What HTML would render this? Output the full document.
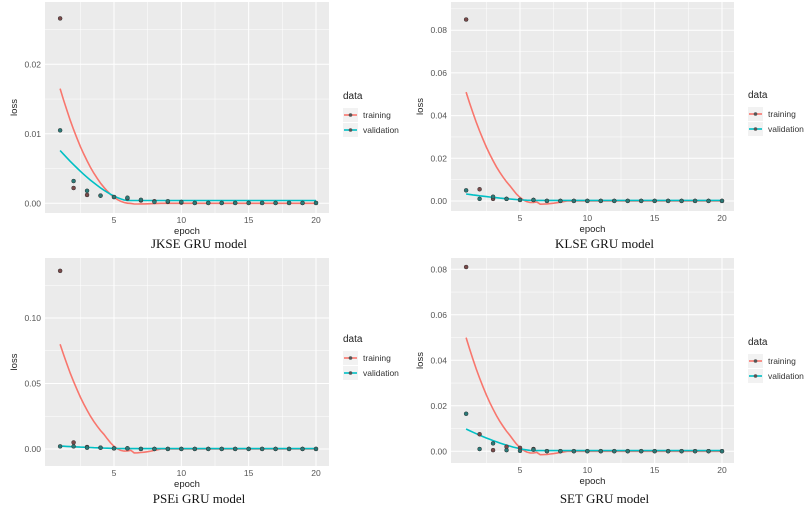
<!DOCTYPE html>
<html><head><meta charset="utf-8"><style>
body{margin:0;background:#fff;width:812px;height:513px;overflow:hidden}
svg{display:block}
</style></head><body>
<svg id="s" width="812" height="513" xmlns="http://www.w3.org/2000/svg" font-family="Liberation Sans, sans-serif"></svg>
<script>
const S=document.getElementById('s');let h='';
function P(o){
 const {x0,x1,y0,y1,zy,unit,step,nt,fmt,title,ty,tp,vp,tc,vc,ly}=o;
 const X=e=>o.ex5+(e-5)*(o.ex20-o.ex5)/15, Y=v=>zy-v/step*unit;
 h+=`<rect x="${x0}" y="${y0}" width="${x1-x0}" height="${y1-y0}" fill="#ebebeb"/>`;
 for(let i=-0.5;i<nt+0.5;i+=0.5){const y=Y(i*step);if(y<y0||y>y1)continue;h+=`<line x1="${x0}" x2="${x1}" y1="${y}" y2="${y}" stroke="#fff" stroke-width="${i%1?0.5:1}"/>`;}
 for(let e=2.5;e<=20;e+=2.5){h+=`<line y1="${y0}" y2="${y1}" x1="${X(e)}" x2="${X(e)}" stroke="#fff" stroke-width="${e%5?0.5:1}"/>`;}
 for(let i=0;i<nt;i++){const y=Y(i*step);h+=`<text x="${x0-4}" y="${y+3}" font-size="8.5" fill="#555" text-anchor="end">${fmt(i*step)}</text>`;}
 for(let e=5;e<=20;e+=5)h+=`<text x="${X(e)}" y="${y1+10}" font-size="8.5" fill="#555" text-anchor="middle">${e}</text>`;
 h+=`<text x="${(x0+x1)/2}" y="${y1+21}" font-size="9.5" fill="#222" text-anchor="middle">epoch</text>`;
 h+=`<text transform="translate(${x0-28},${(y0+y1)/2}) rotate(-90)" font-size="9.5" fill="#222" text-anchor="middle">loss</text>`;
 h+=`<text x="${(x0+x1)/2+12}" y="${ty}" font-size="13" font-family="Liberation Serif, serif" fill="#111" text-anchor="middle">${title}</text>`;
 const pl=(f,c)=>{let d='';for(let e=1;e<=20;e+=0.25)d+=(d?'L':'M')+X(e).toFixed(1)+','+Y(f(e)).toFixed(1);h+=`<path d="${d}" fill="none" stroke="${c}" stroke-width="1.6"/>`;};
 pl(tc,'#f8766d');pl(vc,'#00bfc4');
 tp.forEach((v,i)=>h+=`<circle cx="${X(i+1)}" cy="${Y(v)}" r="2" fill="#7a4a4a" stroke="#333" stroke-width="0.5"/>`);
 vp.forEach((v,i)=>h+=`<circle cx="${X(i+1)}" cy="${Y(v)}" r="2" fill="#2a7a78" stroke="#333" stroke-width="0.5"/>`);
 const lx=x1+14;
 h+=`<text x="${lx}" y="${ly}" font-size="10" fill="#222">data</text>`;
 [['training','#f8766d'],['validation','#00bfc4']].forEach((k,i)=>{const y=ly+16+i*15;
  h+=`<rect x="${lx}" y="${y-7}" width="15" height="14" fill="#f2f2f2"/><line x1="${lx+1}" x2="${lx+14}" y1="${y}" y2="${y}" stroke="${k[1]}" stroke-width="1.6"/><circle cx="${lx+7.5}" cy="${y}" r="1.8" fill="#555"/><text x="${lx+20}" y="${y+3}" font-size="8.5" fill="#333">${k[0]}</text>`;});
}
const curveT=(a,m)=>e=>e<6.5?a*Math.pow((6.5-e)/5.5,2.2)-m*Math.sin(Math.PI*Math.max(0,e-4.3)/2.2)*(e>4.3?1:0):(e<8.5?-m*Math.max(0,Math.sin(Math.PI*(e-4.3)/4.2)):0);
const curveV=(a,b)=>e=>e<6?a*Math.pow((6-e)/5,1.5)+b:b;
const rest=n=>Array(n).fill(0.00005);
const f2=v=>v.toFixed(2);
P({x0:45,x1:329,y0:2,y1:213,zy:203.3,unit:69.5,step:0.01,nt:3,fmt:f2,ex5:114,ex20:316,title:'JKSE GRU model',ty:248,ly:99,
 tp:[0.0266,0.0022,0.0012,0.0011,0.0009,0.0007,0.0004,0.0003,0.0002,0.0001,...rest(10)],
 vp:[0.0105,0.0032,0.0018,0.0011,0.0009,0.0008,0.0005,0.0002,0.0003,0.0002,...rest(10)],
 tc:curveT(0.0165,0.0001),vc:curveV(0.0072,0.0004)});
P({x0:451,x1:734,y0:2,y1:211,zy:201,unit:42.7,step:0.02,nt:5,fmt:f2,ex5:520,ex20:722,title:'KLSE GRU model',ty:248,ly:98,
 tp:[0.085,0.0055,0.001,0.001,0.0005,0.0005,...rest(14)],
 vp:[0.005,0.001,0.002,0.001,0.0005,0.0005,...rest(14)],
 tc:curveT(0.051,0.0015),vc:curveV(0.003,0.0003)});
P({x0:45,x1:329,y0:258,y1:466,zy:449,unit:65.5,step:0.05,nt:3,fmt:f2,ex5:114,ex20:316,title:'PSEi GRU model',ty:503,ly:342,
 tp:[0.136,0.005,0.0015,0.001,0.0005,0.0005,...rest(14)],
 vp:[0.002,0.002,0.001,0.001,0.0005,0.0005,...rest(14)],
 tc:curveT(0.08,0.003),vc:curveV(0.002,0.0003)});
P({x0:451,x1:734,y0:258,y1:463,zy:451.3,unit:45.5,step:0.02,nt:5,fmt:f2,ex5:520,ex20:722,title:'SET GRU model',ty:503,ly:345,
 tp:[0.081,0.0075,0.0005,0.002,0.0015,0.001,...rest(14)],
 vp:[0.0165,0.001,0.0035,0.0005,0.0002,0.0007,...rest(14)],
 tc:curveT(0.05,0.0015),vc:curveV(0.0095,0.0003)});
S.innerHTML=h;
</script>
</body></html>
